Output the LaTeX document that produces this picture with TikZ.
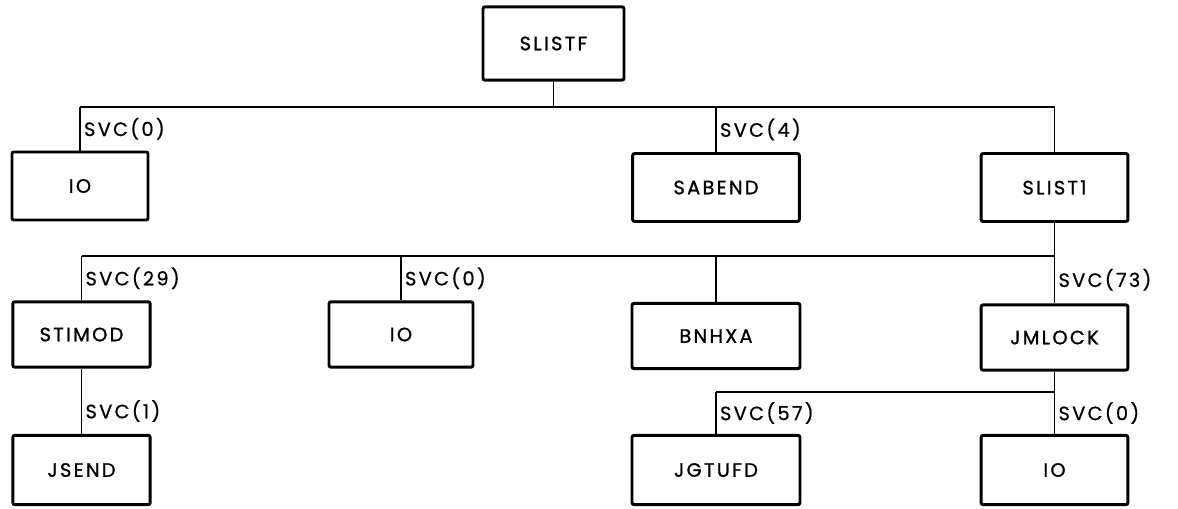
\documentclass[tikz,border=0pt]{standalone}
\usepackage{fontspec}
\setmainfont{Poppins}[LetterSpace=12,FakeBold=0.7]
\newfontfamily\boxfont{Poppins}[LetterSpace=12,FakeBold=1.2]
\usepackage{tikz}

\begin{document}
\begin{tikzpicture}[x=0.75pt,y=-0.75pt,
		modbox/.style={draw,line width=2.2pt,rounded corners=1.5pt,minimum height=51pt,font=\boxfont\fontsize{14.5}{17}\selectfont},
		svc/.style={anchor=west,inner sep=2.5pt,font=\fontsize{14.5}{17}\selectfont},
		wire/.style={line width=1.1pt}]
			\useasboundingbox (0,0) rectangle (1178,508);
			% boxes
			\node[modbox,minimum width=105.75pt,minimum height=55pt] (slistf) at (553.5,43.5) {SLISTF};
			\node[modbox,minimum width=102pt] (io) at (80,186) {IO};
			\node[modbox,minimum width=125pt] (sabend) at (716,187.5) {SABEND};
			\node[modbox,minimum width=110pt] (slist) at (1054.5,187.5) {SLIST1};
			\node[modbox,minimum width=103pt,minimum height=49pt] (stimod) at (81.5,334.5) {STIMOD};
			\node[modbox,minimum width=108pt,minimum height=49pt] (iob) at (401,334.5) {IO};
			\node[modbox,minimum width=126pt,minimum height=49pt] (bnhxa) at (716,336) {BNHXA};
			\node[modbox,minimum width=110pt,minimum height=49pt] (jmlock) at (1054.5,337.5) {JMLOCK};
			\node[modbox,minimum width=103pt,minimum height=52pt] (jsend) at (81.5,470) {JSEND};
			\node[modbox,minimum width=126pt,minimum height=52pt] (jgtufd) at (716,470) {JGTUFD};
			\node[modbox,minimum width=110pt,minimum height=52pt] (ioc) at (1054.5,470) {IO};
			% busses
			\coordinate (busa) at (0,107);
			\coordinate (busb) at (0,256);
			\coordinate (busc) at (0,392);
			% level 1
			\draw[wire](slistf.south)--(slistf.south |- busa);
			\draw[wire](io.north |- busa)--(slist.north |- busa)--(slist.north);
			\draw[wire](io.north |- busa)--(io.north) node[svc,midway]{SVC(0)};
			\draw[wire](sabend.north |- busa)--(sabend.north) node[svc,midway]{SVC(4)};
			% level 2
			\draw[wire](slist.south)--(slist.south |- busb);
			\draw[wire](stimod.north |- busb)--(jmlock.north |- busb);
			\draw[wire](stimod.north |- busb)--(stimod.north) node[svc,midway]{SVC(29)};
			\draw[wire](iob.north |- busb)--(iob.north) node[svc,midway]{SVC(0)};
			\draw[wire](bnhxa.north |- busb)--(bnhxa.north);
			\draw[wire](jmlock.north |- busb)--(jmlock.north) node[svc,midway]{SVC(73)};
			% level 3
			\draw[wire](stimod.south)--(jsend.north) node[svc,pos=.65]{SVC(1)};
			\draw[wire](jmlock.south)--(jmlock.south |- busc);
			\draw[wire](jgtufd.north |- busc)--(ioc.north |- busc);
			\draw[wire](jgtufd.north |- busc)--(jgtufd.north) node[svc,midway]{SVC(57)};
			\draw[wire](ioc.north |- busc)--(ioc.north) node[svc,midway]{SVC(0)};
			\end{tikzpicture}
\end{document}
